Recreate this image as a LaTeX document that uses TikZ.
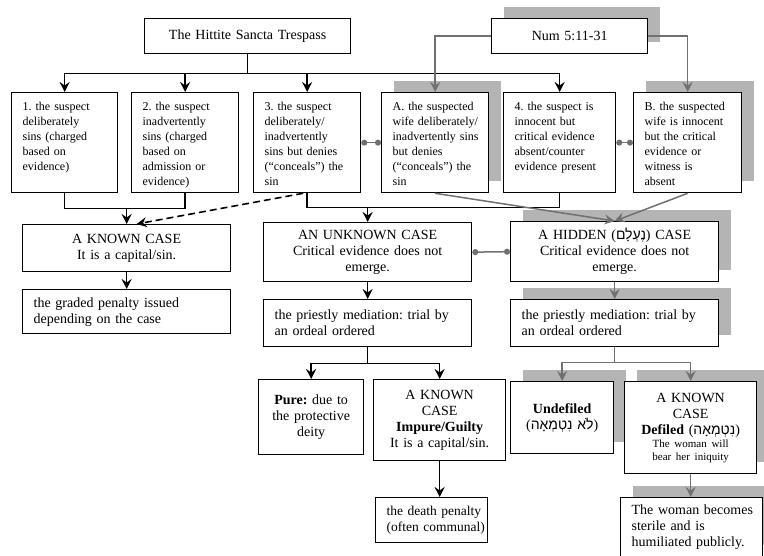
\documentclass[tikz,border=0pt]{standalone}
\usepackage{fontspec}
\setmainfont{Liberation Serif}
\newfontfamily\hebfont[Script=Hebrew]{Liberation Sans}
\TeXXeTstate=1
\frenchspacing
\usetikzlibrary{arrows.meta, shadows, calc}
\definecolor{shade}{HTML}{B4B4B4}
\definecolor{linegray}{HTML}{707070}
\tikzset{
	box/.style={draw, line width=1.3pt, fill=white, anchor=north west, inner xsep=11pt, inner ysep=4pt, font=\fontsize{14}{16}\selectfont},
	sz/.style 2 args={minimum width=#1pt, minimum height=#2pt, text width=#1pt-22pt},
	lefttext/.style={align=left, execute at begin node={\rightskip=0pt minus 30pt}},
	toprow/.style={lefttext, text height=14pt, text depth=78pt, font=\fontsize{12}{15}\selectfont},
	shad/.style={drop shadow={shadow xshift=12pt, shadow yshift=12pt, opacity=1, fill=shade}},
	blk/.style={line width=1.6pt},
	gry/.style={line width=1.5pt, draw=linegray},
	arrowhd/.style={-{Stealth[length=10pt, width=10pt, inset=3.5pt]}},
	dotlink/.style={gry, {Circle[length=6pt]}-{Circle[length=6pt]}}
}

\begin{document}
\begin{tikzpicture}[x=1pt, y=-1pt]
	\useasboundingbox (0,0) rectangle (764,555);

	% sources
	\node[box, sz={206}{35}, align=center] (hitt) at (144,18) {The Hittite Sancta Trespass};
	\node[box, shad, sz={156}{35}, align=center] (num) at (491,18) {Num 5:11-31};

	% first row
	\node[box, toprow, sz={106}{100}] (s1) at (11,92) {1. the suspect\\ deliberately\\ sins (charged\\ based on\\ evidence)};
	\node[box, toprow, sz={107}{100}] (s2) at (131,92) {2. the suspect\\ inadvertently\\ sins (charged\\ based on\\ admission or\\ evidence)};
	\node[box, toprow, sz={107}{100}] (s3) at (253,92) {3. the suspect\\ deliberately/\\ inadvertently\\ sins but denies\\ (“conceals”) the\\ sin};
	\node[box, shad, toprow, sz={107}{100}] (wA) at (381,92) {A. the suspected\\ wife deliberately/\\ inadvertently sins\\ but denies\\ (“conceals”) the\\ sin};
	\node[box, toprow, sz={112}{100}] (s4) at (503,92) {4. the suspect is\\ innocent but\\ critical evidence\\ absent/counter\\ evidence present};
	\node[box, shad, toprow, sz={108}{100}] (wB) at (633,92) {B. the suspected\\ wife is innocent\\ but the critical\\ evidence or\\ witness is\\ absent};

	% cases
	\node[box, sz={208}{47}, align=center] (known) at (22,224) {A KNOWN CASE\\ It is a capital/sin.};
	\node[box, lefttext, sz={208}{44}] (graded) at (22,289) {the graded penalty issued\\ depending on the case};
	\node[box, sz={208}{59}, align=center] (unknown) at (263,222) {AN UNKNOWN CASE\\ Critical evidence does not\\ emerge.};
	\node[box, shad, sz={208}{60}, align=center] (hidden) at (510,221) {A HIDDEN ({\hebfont\beginR נֶעְלָם\endR}) CASE\\ Critical evidence does not\\ emerge.};

	% ordeal
	\node[box, lefttext, sz={208}{47}] (ordeal) at (263,299) {the priestly mediation: trial by\\ an ordeal ordered};
	\node[box, shad, lefttext, sz={208}{47}] (ordealB) at (510,299) {the priestly mediation: trial by\\ an ordeal ordered};

	% outcomes
	\node[box, sz={105}{75}, align=center] (pure) at (258,379) {\textbf{Pure:} due to\\ the protective\\ deity};
	\node[box, sz={132}{81}, align=center] (guilty) at (373,379) {A KNOWN\\ CASE\\ \textbf{Impure/Guilty}\\ It is a capital/sin.};
	\node[box, lefttext, sz={112}{45}, font=\fontsize{13.5}{16}\selectfont] (death) at (375,497) {the death penalty\\ (often communal)};
	\node[box, shad, sz={103}{72}, align=center] (undef) at (510,381) {\textbf{Undefiled}\\ ({\hebfont\beginR לֹא נִטְמְאָה\endR})};
	\node[box, shad, sz={132}{92}, align=center] (defil) at (624,381) {A KNOWN\\ CASE\\ \textbf{Defiled} ({\hebfont\beginR נִטְמְאָה\endR})\\ {\fontsize{11}{13}\selectfont The woman will\\ bear her iniquity\par}};
	\node[box, shad, lefttext, sz={142}{59}] (sterile) at (620,497) {The woman becomes\\ sterile and is\\ humiliated publicly.};

	% connectors
	\draw[blk] (hitt.south) -- ++(0,19) coordinate (hbar);
	\foreach \s in {s1,s2,s3,s4}
		\draw[blk, arrowhd] (hbar) -| (\s.north);
	\draw[gry, arrowhd] (num.west) -| (wA.north);
	\draw[gry, arrowhd] (num.east) -| (wB.north);
	\draw[dotlink] (s3.east) -- (wA.west);
	\draw[dotlink] (s4.east) -- (wB.west);

	\draw[blk] (s1.south) -- ++(0,15) coordinate (j1) -| (s2.south);
	\draw[blk, arrowhd] (known.north |- j1) -- (known.north);
	\draw[blk, dash pattern=on 7pt off 4pt, arrowhd] ([xshift=-4pt]s3.south) -- ([xshift=10pt]known.north);
	\draw[blk] (s3.south) -- ++(0,14) coordinate (j3) -| (s4.south);
	\draw[blk, arrowhd] (unknown.north |- j3) -- (unknown.north);
	\draw[gry, arrowhd] (wA.south) -- (hidden.north);
	\draw[gry, arrowhd] (wB.south) -- (hidden.north);

	\draw[blk, arrowhd] (known) -- (graded);
	\draw[dotlink] (unknown.east) -- (hidden.west);
	\draw[blk, arrowhd] (unknown) -- (ordeal);
	\draw[gry, arrowhd] (hidden) -- (ordealB);

	\draw[blk] (ordeal.south) -- ++(0,16) coordinate (j5);
	\foreach \s in {pure,guilty}
		\draw[blk, arrowhd] (j5) -| (\s.north);
	\draw[blk, arrowhd] (guilty.south) -- (guilty.south |- death.north);
	\draw[gry] (ordealB.south) -- ++(0,15) coordinate (j6);
	\foreach \s in {undef,defil}
		\draw[gry, arrowhd] (j6) -| (\s.north);
	\draw[gry, arrowhd] (defil.south) -- (defil.south |- sterile.north);
\end{tikzpicture}
\end{document}
